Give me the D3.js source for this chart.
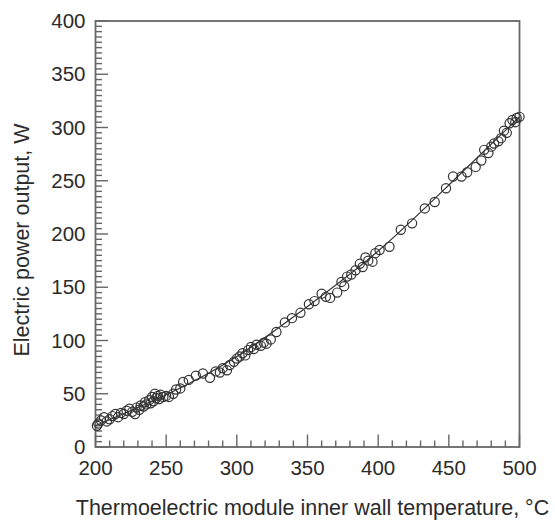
<!DOCTYPE html>
<html>
<head>
<meta charset="utf-8">
<script src="https://cdn.jsdelivr.net/npm/d3@7"></script>
<style>
	body { margin: 0; background: #fff; }
	text { font-family: "Liberation Sans", Arial, sans-serif; fill: #2b2b2b; }
</style>
</head>
<body>
<script>
// measured points: inner wall temperature (degC) and power output (W)
var temps = [201, 202, 204, 206, 208, 210, 212, 214, 216, 218, 220, 222, 224, 226, 228, 229, 231, 232, 234, 235,
	236, 238, 239, 240, 241, 242, 243, 244, 245, 246, 248, 250, 252, 255, 257, 260, 262, 266, 271, 276,
	281, 285, 288, 290, 293, 295, 298, 300, 302, 304, 306, 308, 310, 312, 314, 317, 319, 321, 324, 328,
	334, 339, 345, 351, 355, 360, 363, 366, 371, 374, 376, 378, 381, 384, 387, 389, 391, 393, 396, 398,
	401, 408, 416, 424, 433, 440, 448, 453, 459, 463, 469, 473, 475, 478, 480, 482, 485, 487, 489, 491,
	493, 495, 497, 498, 500];
var power = [20, 22, 25, 28, 24, 26, 29, 31, 28, 32, 31, 34, 36, 33, 31, 37, 35, 39, 38, 42,
	40, 44, 41, 47, 43, 50, 46, 48, 45, 49, 47, 48, 47, 50, 54, 55, 61, 63, 67, 69,
	65, 71, 70, 74, 72, 77, 80, 83, 85, 88, 86, 91, 94, 92, 96, 95, 98, 97, 101, 108,
	117, 121, 126, 134, 137, 144, 141, 140, 145, 155, 151, 160, 162, 166, 172, 169, 178, 175, 174, 182,
	185, 188, 204, 210, 224, 230, 243, 254, 254, 258, 263, 269, 279, 276, 282, 285, 287, 290, 297, 295,
	304, 307, 305, 309, 310];

// trend line
var fitTemps = [200, 250, 300, 350, 400, 450, 500];
var fitPower = [20, 49, 85, 132, 184, 246, 310];

var xTicks = [200, 250, 300, 350, 400, 450, 500];
var yTicks = [0, 50, 100, 150, 200, 250, 300, 350, 400];

var width = 555, height = 521;
var margin = { left: 95.5, right: 35.5, top: 21, bottom: 74 };

var svg = d3.select('body').append('svg')
	.attr('width', width)
	.attr('height', height);

var x = d3.scaleLinear().domain([200, 500]).range([margin.left, width - margin.right]);
var y = d3.scaleLinear().domain([0, 400]).range([height - margin.bottom, margin.top]);

var axisColor = '#666';

// frame
svg.append('rect')
	.attr('x', x(200)).attr('y', y(400))
	.attr('width', x(500) - x(200)).attr('height', y(0) - y(400))
	.attr('fill', 'none').attr('stroke', axisColor).attr('stroke-width', 1.8);

// ticks point inward
var xMinor = d3.range(200, 501, 10);
var yMinor = d3.range(0, 401, 5);

svg.append('g').selectAll('line').data(xMinor).enter().append('line')
	.attr('x1', function (d) { return x(d); }).attr('x2', function (d) { return x(d); })
	.attr('y1', y(0)).attr('y2', function (d) { return y(0) - (d % 50 === 0 ? 12.5 : 6.5); })
	.attr('stroke', axisColor).attr('stroke-width', 1.4);

svg.append('g').selectAll('line').data(yMinor).enter().append('line')
	.attr('y1', function (d) { return y(d); }).attr('y2', function (d) { return y(d); })
	.attr('x1', x(200)).attr('x2', function (d) { return x(200) + (d % 50 === 0 ? 12.5 : 6.5); })
	.attr('stroke', axisColor).attr('stroke-width', 1.4);

// tick labels
svg.append('g').selectAll('text').data(xTicks).enter().append('text')
	.attr('x', function (d) { return x(d); })
	.attr('y', y(0) + 28)
	.attr('text-anchor', 'middle')
	.attr('font-size', 20.5)
	.text(function (d) { return d; });

svg.append('g').selectAll('text').data(yTicks).enter().append('text')
	.attr('x', x(200) - 10)
	.attr('y', function (d) { return y(d) + 7; })
	.attr('text-anchor', 'end')
	.attr('font-size', 20.5)
	.text(function (d) { return d; });

// axis titles
svg.append('text')
	.attr('x', (x(200) + x(500)) / 2 + 5)
	.attr('y', 515)
	.attr('text-anchor', 'middle')
	.attr('font-size', 21.5)
	.text('Thermoelectric module inner wall temperature, °C');

svg.append('text')
	.attr('transform', 'translate(29,' + 240 + ') rotate(-90)')
	.attr('text-anchor', 'middle')
	.attr('font-size', 21.5)
	.text('Electric power output, W');

// fitted curve
var line = d3.line()
	.x(function (d, i) { return x(fitTemps[i]); })
	.y(function (d, i) { return y(fitPower[i]); })
	.curve(d3.curveNatural);

svg.append('path')
	.datum(fitTemps)
	.attr('d', line)
	.attr('fill', 'none')
	.attr('stroke', '#333')
	.attr('stroke-width', 1.2);

// data markers
svg.append('g').selectAll('circle').data(temps).enter().append('circle')
	.attr('cx', function (d) { return x(d); })
	.attr('cy', function (d, i) { return y(power[i]); })
	.attr('r', 4.6)
	.attr('fill', 'none')
	.attr('stroke', '#333')
	.attr('stroke-width', 1.2);
</script>
</body>
</html>
